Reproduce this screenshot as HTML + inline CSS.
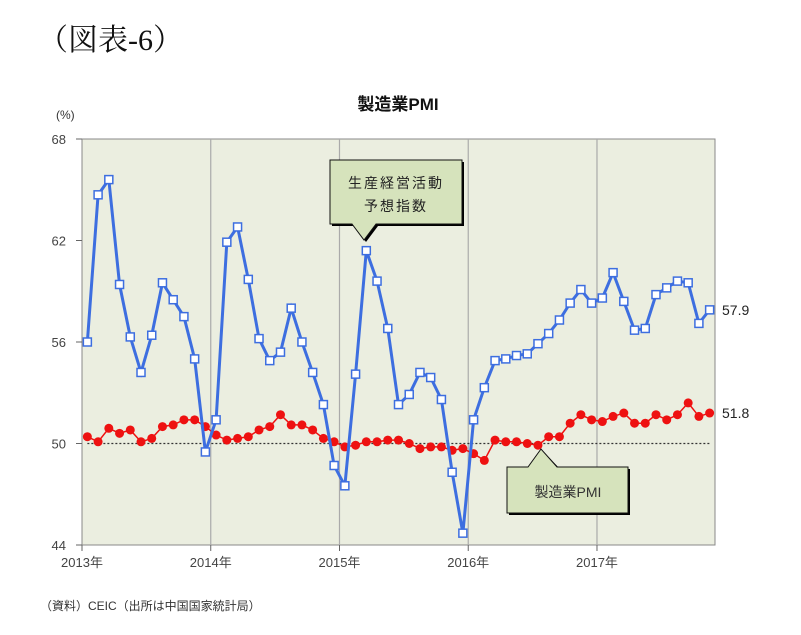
<!DOCTYPE html>
<html><head><meta charset="utf-8">
<style>
body{margin:0;background:#fff;width:801px;height:630px;overflow:hidden;font-family:"Liberation Sans","Noto Sans CJK JP",sans-serif;}
svg text{font-family:"Liberation Sans","Noto Sans CJK JP",sans-serif;}
</style></head>
<body>
<svg id="chart" width="801" height="630" viewBox="0 0 801 630" xmlns="http://www.w3.org/2000/svg">
<text x="38" y="50" font-size="30" style="font-family:'Liberation Serif','Noto Serif CJK SC',serif" fill="#111">（図表-6）</text>
<text x="398" y="110" font-size="17" font-weight="bold" text-anchor="middle" fill="#111">製造業PMI</text>
<text x="56" y="119" font-size="12" fill="#333">(%)</text>
<rect x="82" y="139" width="633" height="406" fill="#ebeee0" stroke="#888" stroke-width="1"/>
<g id="grid"></g>
<g id="series"></g>
<g>
<path d="M330,160 H462 V224 H376 L364,240 L352,224 H330 Z" fill="#000" transform="translate(2,2)"/>
<path d="M330,160 H462 V224 H376 L364,240 L352,224 H330 Z" fill="#d6e3bc" stroke="#111" stroke-width="1"/>
<text x="396" y="188" font-size="14" text-anchor="middle" fill="#222" letter-spacing="2">生産経営活動</text>
<text x="396" y="211" font-size="14" text-anchor="middle" fill="#222" letter-spacing="2">予想指数</text>
</g>
<g>
<path d="M507,467 H558 L541,449 L557,467 H628 V513 H507 Z" fill="#000" transform="translate(2,2)"/>
<path d="M507,467 H528 L541,449 L557,467 H628 V513 H507 Z" fill="#d6e3bc" stroke="#111" stroke-width="1"/>
<text x="568" y="497" font-size="14" text-anchor="middle" fill="#333">製造業PMI</text>
</g>
<text x="40" y="610" font-size="12" fill="#333">（資料）CEIC（出所は中国国家統計局）</text>
</svg>
<script>
const years=['2013年','2014年','2015年','2016年','2017年'];
const yTicks=[44,50,56,62,68];
const expectation=[56.0,64.7,65.6,59.4,56.3,54.2,56.4,59.5,58.5,57.5,55.0,49.5,
51.4,61.9,62.8,59.7,56.2,54.9,55.4,58.0,56.0,54.2,52.3,48.7,
47.5,54.1,61.4,59.6,56.8,52.3,52.9,54.2,53.9,52.6,48.3,44.7,
51.4,53.3,54.9,55.0,55.2,55.3,55.9,56.5,57.3,58.3,59.1,58.3,
58.6,60.1,58.4,56.7,56.8,58.8,59.2,59.6,59.5,57.1,57.9];
const pmi=[50.4,50.1,50.9,50.6,50.8,50.1,50.3,51.0,51.1,51.4,51.4,51.0,
50.5,50.2,50.3,50.4,50.8,51.0,51.7,51.1,51.1,50.8,50.3,50.1,
49.8,49.9,50.1,50.1,50.2,50.2,50.0,49.7,49.8,49.8,49.6,49.7,
49.4,49.0,50.2,50.1,50.1,50.0,49.9,50.4,50.4,51.2,51.7,51.4,
51.3,51.6,51.8,51.2,51.2,51.7,51.4,51.7,52.4,51.6,51.8];
const refLine=50;
const X0=82,X1=715,Y0=139,Y1=545,YMIN=44,YMAX=68,N=expectation.length;
const bw=(X1-X0)/N;
const x=i=>X0+bw*(i+0.5);
const y=v=>Y1-(v-YMIN)/(YMAX-YMIN)*(Y1-Y0);
const NS='http://www.w3.org/2000/svg';
function mk(tag,attrs,parent){const e=document.createElementNS(NS,tag);for(const k in attrs)e.setAttribute(k,attrs[k]);parent.appendChild(e);return e;}
const grid=document.getElementById('grid'),ser=document.getElementById('series'),svg=document.getElementById('chart');
yTicks.forEach(t=>{
 const l=mk('line',{x1:X0-6,x2:X0,y1:y(t),y2:y(t),stroke:'#666'},grid);
 
 
 const tx=mk('text',{x:X0-16,y:y(t)+5,'font-size':13,'text-anchor':'end',fill:'#444'},svg);
 tx.textContent=t;
 
 
});
years.forEach((yr,k)=>{
 const gx=X0+bw*12*k;
 if(k>0){const g=mk('line',{x1:gx,x2:gx,y1:Y0,y2:Y1,stroke:'#aaa','stroke-width':1.2},grid);
 
 }
 const tk=mk('line',{x1:gx,x2:gx,y1:Y1,y2:Y1+6,stroke:'#666'},grid);
 
 
 const tx=mk('text',{x:gx,y:Y1+22,'font-size':13,'text-anchor':'middle',fill:'#444'},svg);
 tx.textContent=yr;
 
 
});
const rl=mk('line',{x1:x(0),x2:x(N-1),y1:y(refLine),y2:y(refLine),stroke:'#333','stroke-dasharray':'2,2','stroke-width':1.3},grid);


const pl=mk('polyline',{points:pmi.map((v,i)=>x(i)+','+y(v)).join(' '),fill:'none',stroke:'#ee1111','stroke-width':1.5},ser);


pmi.forEach((v,i)=>{const c=mk('circle',{cx:x(i),cy:y(v),r:4.5,fill:'#ee1111'},ser);
 
 });
const el=mk('polyline',{points:expectation.map((v,i)=>x(i)+','+y(v)).join(' '),fill:'none',stroke:'#3d6ee0','stroke-width':3},ser);


expectation.forEach((v,i)=>{const r=mk('rect',{x:x(i)-4,y:y(v)-4,width:8,height:8,fill:'#fff',stroke:'#3d6ee0','stroke-width':1.5},ser);
 
 });
const l1=mk('text',{x:722,y:y(expectation[N-1])+5,'font-size':14,fill:'#222'},svg);
l1.textContent=expectation[N-1].toFixed(1);


const l2=mk('text',{x:722,y:y(pmi[N-1])+5,'font-size':14,fill:'#222'},svg);
l2.textContent=pmi[N-1].toFixed(1);


</script>
</body></html>
